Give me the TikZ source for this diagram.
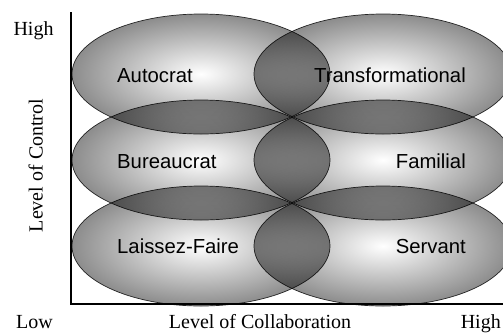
\documentclass[tikz,border=0pt]{standalone}
\usepackage{fontspec}
\setmainfont{Liberation Serif}
\setsansfont{Liberation Sans}
\usetikzlibrary{shapes.geometric}
\begin{document}
\begin{tikzpicture}[x=1pt,y=-1pt,
  blob/.style={ellipse, minimum width=258pt, minimum height=120pt, inner sep=0pt,
    shading=radial, inner color=white, outer color=black!45,
    draw=black!80, line width=0.7pt},
  lab/.style={font=\sffamily\fontsize{20.3}{24}\selectfont, inner sep=0pt, text=black},
  axlab/.style={font=\fontsize{20}{24}\selectfont, inner sep=0pt},
  axis/.style={line width=2.6pt, black}]
\useasboundingbox (0,0) rectangle (503,333);
\begin{scope}[blend mode=multiply]
  \node[blob] (e1) at (201,74) {};
  \node[blob] (e2) at (383,74) {};
  \node[blob] (e3) at (201,160) {};
  \node[blob] (e4) at (383,160) {};
  \node[blob] (e5) at (201,246) {};
  \node[blob] (e6) at (383,246) {};
\end{scope}
\node[lab, anchor=base west] (autocrat) at (117,82) {Autocrat};
\node[lab, anchor=base east] (transf) at (466,82) {Transformational};
\node[lab, anchor=base west] (bureau) at (117,168) {Bureaucrat};
\node[lab, anchor=base east] (familial) at (466,168) {Familial};
\node[lab, anchor=base west] (laissez) at (117,253) {Laissez-Faire};
\node[lab, anchor=base east] (servant) at (466,253) {Servant};
\coordinate (ytop) at (71,12);
\coordinate (origin) at (71,304);
\coordinate (xend) at (503,304);
\draw[axis] (ytop) -- (origin) -- (xend);
\node[axlab, anchor=base] (hightop) at (33.5,35) {High};
\node[axlab, anchor=base] (low) at (34.5,328) {Low};
\node[axlab, anchor=base east] (highright) at (501,328) {High};
\node[axlab, anchor=base] (xlabel) at (260,328) {Level of Collaboration};
\node[axlab, anchor=base, rotate=90] (ylabel) at (42.5,165.5) {Level of Control};
\end{tikzpicture}
\end{document}
